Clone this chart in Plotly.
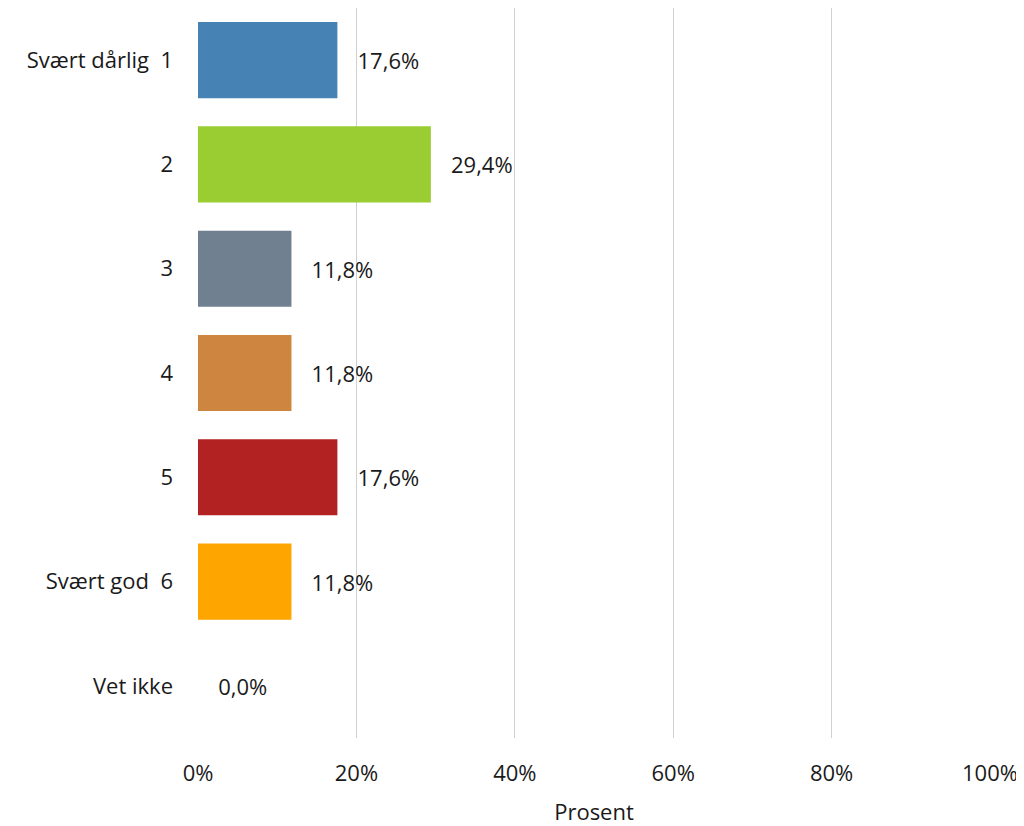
import plotly.graph_objects as go

categories = ["Svært dårlig\u00a0\u00a01", "2", "3", "4", "5", "Svært god\u00a0\u00a06", "Vet ikke"]
values = [17.6, 29.4, 11.8, 11.8, 17.6, 11.8, 0.0]
colors = ["#4682B4", "#9ACD32", "#708090", "#CD853F", "#B22222", "#FFA500", "#FFFFFF"]
tick_vals = [0, 20, 40, 60, 80, 100]
tick_text = ["0%", "20%", "40%", "60%", "80%", "100%"]

labels = ["\u00a0\u00a0\u00a0" + f"{v:.1f}".replace(".", ",") + "%" for v in values]

FONT = "Open Sans"

fig = go.Figure(go.Bar(
    y=categories, x=values, orientation="h",
    marker=dict(color=colors, line=dict(width=0)),
    text=labels, textposition="outside",
    textfont=dict(size=22, color="#1a1a1a", family=FONT),
    cliponaxis=False, width=0.73,
))

fig.update_layout(
    width=1016, height=818,
    margin=dict(l=190, r=34, t=0, b=88, autoexpand=False),
    paper_bgcolor="white", plot_bgcolor="white",
    font=dict(family=FONT, size=22, color="#1a1a1a"),
    showlegend=False,
    xaxis=dict(range=[0, 100], tickvals=tick_vals, ticktext=tick_text,
               showgrid=True, gridcolor="#D0D0D0", gridwidth=1, zeroline=False,
               showline=False, ticks="", ticklabelstandoff=20, automargin=False,
               title=dict(text="Prosent", font=dict(size=22), standoff=20)),
    yaxis=dict(autorange="reversed", showgrid=False, showline=False, ticks="",
               ticklabelstandoff=24, automargin=False),
)

fig.write_html("out.html")
